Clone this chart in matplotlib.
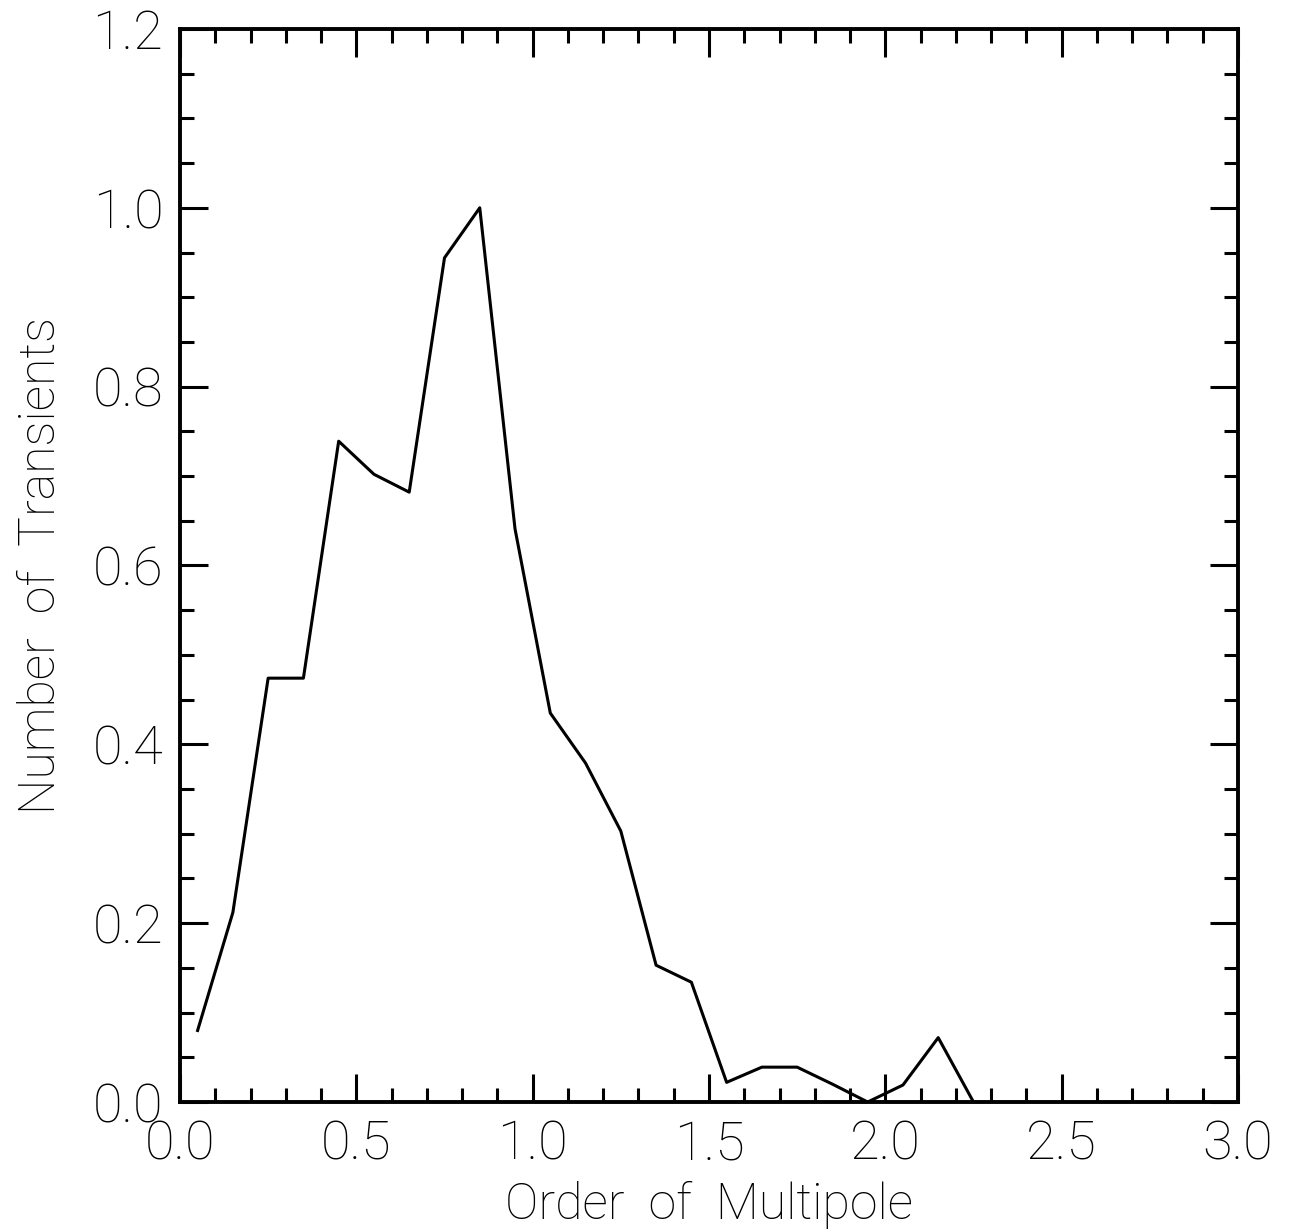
import numpy as np
import matplotlib.pyplot as plt
from matplotlib.ticker import MultipleLocator, FormatStrFormatter

# =========================
# DATA
# =========================
order = [0.05, 0.15, 0.25, 0.35, 0.45, 0.55, 0.65, 0.75, 0.85, 0.95,
         1.05, 1.15, 1.25, 1.35, 1.45, 1.55, 1.65, 1.75, 1.85, 1.95,
         2.05, 2.15, 2.25]
n_transients = [0.080, 0.212, 0.474, 0.474, 0.739, 0.702, 0.682, 0.944, 1.000, 0.641,
                0.435, 0.379, 0.303, 0.153, 0.134, 0.022, 0.039, 0.039, 0.020, 0.000,
                0.019, 0.072, 0.000]

X_LABEL = "Order  of  Multipole"
Y_LABEL = "Number  of  Transients"

plt.rcParams['font.family'] = ['Roboto', 'DejaVu Sans']

fig = plt.figure(figsize=(12.92, 12.32), dpi=100)
ax = fig.add_axes([0.1393, 0.1055, 0.8189, 0.871])

ax.plot(order, n_transients, color="black", linewidth=2.2)

ax.set_xlim(0, 3.0)
ax.set_ylim(0, 1.2)
ax.xaxis.set_major_locator(MultipleLocator(0.5))
ax.xaxis.set_minor_locator(MultipleLocator(0.1))
ax.yaxis.set_major_locator(MultipleLocator(0.2))
ax.yaxis.set_minor_locator(MultipleLocator(0.05))
ax.xaxis.set_major_formatter(FormatStrFormatter("%.1f"))
ax.yaxis.set_major_formatter(FormatStrFormatter("%.1f"))

ax.tick_params(which="both", direction="in", top=True, right=True, width=2.2)
ax.tick_params(which="major", length=20, labelsize=39, pad=12)
ax.tick_params(which="minor", length=10)
for lab in ax.get_xticklabels() + ax.get_yticklabels():
    lab.set_fontweight("light")

for sp in ax.spines.values():
    sp.set_linewidth(2.8)

ax.set_xlabel(X_LABEL, fontsize=36, fontweight="light", labelpad=8)
ax.set_ylabel(Y_LABEL, fontsize=36, fontweight="light", labelpad=20)

fig.savefig("out.png", dpi=100)
